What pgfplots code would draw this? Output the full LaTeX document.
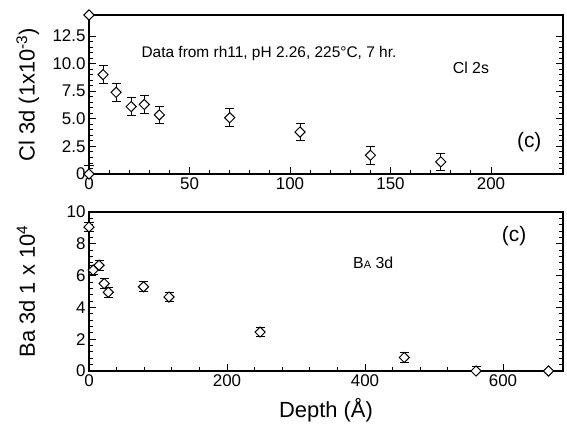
\documentclass[border=0pt]{standalone}
\usepackage{fontspec}
\setmainfont{Liberation Sans}
\usepackage{pgfplots}
\usepackage{pgfplotstable}
\pgfplotsset{compat=1.18}

% depth, value, error up, error down
\pgfplotstableread{
x y ep em
0 14.4 0 0
0 0 0.8 0
7 9.0 0.8 0.8
13.5 7.4 0.8 0.8
21 6.1 0.8 0.8
27.5 6.3 0.8 0.8
35 5.35 0.8 0.8
70 5.1 0.8 0.8
105 3.8 0.8 0.8
140 1.7 0.8 0.8
175 1.1 0.8 0.8
}\cltable

\pgfplotstableread{
x y ep em
0 9.05 0.3 0.3
6 6.35 0.3 0.3
14.5 6.65 0.3 0.3
22 5.5 0.3 0.3
28 4.95 0.3 0.3
79 5.3 0.3 0.3
116 4.65 0.3 0.3
248 2.45 0.3 0.3
457 0.85 0.3 0.3
561 0 0.3 0
666 0 0 0
}\batable

\pgfplotsset{
  panel/.style={
    scale only axis, width=474bp, height=159bp,
    anchor=south west,
    axis line style={line width=1.1pt},
    tick align=inside,
    xtick pos=bottom, ytick pos=both,
    major tick length=7bp, minor tick length=4bp,
    every tick/.style={black, line width=0.9pt},
    minor y tick num=4,
    minor x tick num=4,
    clip=false,
    /pgf/number format/assume math mode=true,
    ticklabel style={font=\fontsize{17}{19}\selectfont},
    label style={font=\fontsize{22}{25}\selectfont},
  },
  pts/.style={
    black, line width=1pt, only marks,
    mark=square*, mark size=3.6bp,
    mark options={rotate=45, fill=white, line width=1pt},
    error bars/.cd, y dir=both, y explicit,
    error mark=-, error mark options={rotate=90, mark size=4.5bp, line width=1pt},
    error bar style={line width=1pt},
  },
}

\begin{document}
\begin{tikzpicture}
\useasboundingbox (0,0) rectangle (567bp,428bp);

\begin{axis}[panel, at={(89bp,254bp)},
  xmin=0, xmax=235.8, ymin=0, ymax=14.4,
  xtick={0,50,100,150,200},
  ytick={0,2.5,5,7.5,10,12.5},
  yticklabels={0,2.5,5.0,7.5,10.0,12.5},
  ylabel={Cl 3d (1x10\textsuperscript{-3})},
  ylabel style={at={(axis description cs:-0.129,0.5)}, anchor=center},
]
\addplot+[pts] table[x=x, y=y, y error plus=ep, y error minus=em] {\cltable};
\node[anchor=west, font=\fontsize{15.5}{17}\selectfont] at (axis cs:24.4,10.9) {Data from rh11, pH 2.26, 225°C, 7 hr.};
\node[anchor=center, font=\fontsize{16}{18}\selectfont] at (axis cs:190,9.6) {Cl 2s};
\node[anchor=center, font=\fontsize{21}{24}\selectfont] at (axis cs:219,2.9) {(c)};
\end{axis}

\begin{axis}[panel, at={(89bp,57bp)},
  xmin=0, xmax=687, ymin=0, ymax=10,
  xtick={0,200,400,600},
  ytick={0,2,4,6,8,10},
  ylabel={Ba 3d 1 x 10\textsuperscript{4}},
  ylabel style={at={(axis description cs:-0.133,0.5)}, anchor=center},
  xlabel={Depth (Å)},
  xlabel style={at={(axis description cs:0.5,-0.245)}, anchor=center},
]
\addplot+[pts] table[x=x, y=y, y error plus=ep, y error minus=em] {\batable};
\node[anchor=center, font=\fontsize{16}{18}\selectfont] at (axis cs:412,6.8) {B{\fontsize{11}{12}\selectfont A} 3d};
\node[anchor=center, font=\fontsize{21}{24}\selectfont] at (axis cs:616,8.5) {(c)};
\end{axis}
\end{tikzpicture}
\end{document}
